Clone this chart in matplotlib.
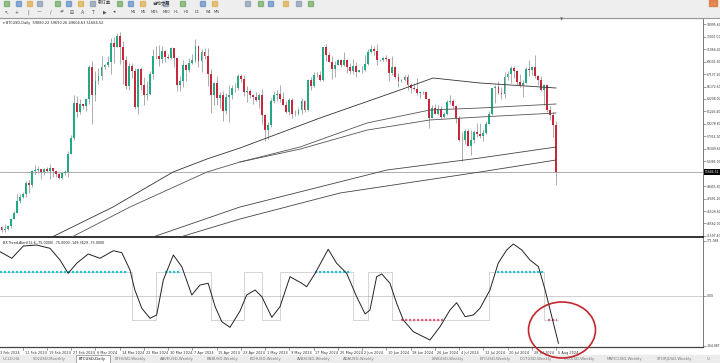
import numpy as np
import matplotlib
matplotlib.use("Agg")
from matplotlib import pyplot as plt
from matplotlib.patches import Rectangle, Ellipse

plt.rcParams['font.family'] = ['DejaVu Sans', 'Noto Sans CJK SC']

# daily bars, 3 Feb 2024 .. 5 Aug 2024 (bar index 0 .. 184)
opens = [43190, 43010, 42580, 42660, 43090, 44340, 45290, 47150, 47770, 48290,
         49960, 49700, 51800, 51940, 52130, 51650, 52120, 51780, 52280, 51850,
         51300, 50730, 51570, 51730, 54480, 57080, 62500, 61200, 62400, 62030,
         63130, 68330, 63800, 66100, 66900, 68300, 68500, 69000, 72100, 71480,
         73080, 71400, 69400, 65300, 68390, 67550, 61910, 67900, 65490, 63780,
         64060, 67230, 69960, 69990, 69450, 70750, 69890, 69650, 71330, 69700,
         65450, 65980, 68500, 67840, 68900, 69360, 71630, 69150, 70590, 70060,
         67190, 63820, 65740, 63420, 63810, 61270, 63510, 63840, 64990, 64930,
         66840, 66410, 64290, 64500, 63770, 63460, 63120, 63840, 60660, 58250,
         59120, 62890, 63890, 64030, 63160, 62330, 61190, 63050, 60790, 60790,
         61450, 62900, 61550, 66270, 65230, 67050, 66940, 66280, 71450, 70140,
         69120, 67930, 68540, 69290, 68500, 69390, 68300, 67590, 68350, 67490,
         67710, 67750, 68800, 70560, 71080, 70760, 69340, 69300, 69650, 69500,
         67320, 68240, 66750, 66010, 66190, 66640, 65490, 64960, 64850, 64100,
         64260, 64260, 63180, 60280, 61800, 60860, 61670, 60320, 60890, 62680,
         62850, 62030, 60170, 56660, 56660, 58230, 55860, 56710, 58050, 57720,
         57340, 57900, 59230, 60790, 64870, 65100, 64120, 63970, 66710, 67160,
         68170, 67560, 65930, 65370, 65800, 67910, 67810, 68260, 66780, 66190,
         64620, 65360, 61420, 60680, 59080.22]
highs = [43380, 43120, 43500, 43380, 44370, 45600, 48200, 48170, 48590, 50330,
         50370, 52040, 52820, 52570, 52180, 52380, 52490, 52980, 52370, 52050,
         51550, 51680, 51950, 54940, 57560, 63910, 63680, 63160, 62460, 63200,
         68520, 69170, 67640, 68030, 69990, 68680, 70010, 72800, 72970, 73650,
         73780, 72420, 70070, 68870, 68920, 68060, 68100, 68200, 66620, 65970,
         67580, 71150, 71520, 71670, 71550, 70900, 70320, 71360, 71330, 69700,
         66900, 69290, 68720, 69630, 70280, 72720, 71740, 71170, 71250, 71230,
         67930, 65820, 66880, 64370, 64480, 64100, 65480, 65420, 65700, 67230,
         67200, 67060, 65250, 64800, 63920, 64360, 64230, 64730, 60780, 59580,
         63320, 64490, 64550, 65450, 64360, 62950, 63400, 63440, 61470, 61790,
         63400, 63090, 66440, 66640, 67390, 67440, 67680, 71470, 71950, 70620,
         70070, 69200, 69520, 69510, 70610, 69550, 68900, 69490, 69000, 67830,
         68400, 70230, 71050, 71740, 71620, 71950, 69550, 69850, 70150, 69560,
         69990, 68440, 67290, 66400, 66950, 67190, 65700, 65700, 66470, 64520,
         64520, 64500, 63360, 62290, 62480, 62300, 62180, 61120, 62980, 63790,
         63240, 62240, 60460, 58000, 58420, 58470, 58240, 58250, 59400, 59460,
         58500, 59800, 61380, 64880, 65360, 66110, 65110, 67460, 67600, 68340,
         68460, 67780, 67080, 66150, 68240, 69400, 68310, 70080, 66980, 66800,
         65560, 65520, 62150, 61100, 59690.26]
lows = [42880, 42260, 42260, 42570, 42790, 44330, 45250, 46800, 47560, 47720,
        48350, 49260, 51330, 51580, 50650, 51160, 51680, 50630, 50830, 50940,
        50520, 50600, 51290, 50930, 54450, 56700, 60400, 60800, 61650, 61380,
        62350, 59320, 62850, 65600, 66180, 67980, 68230, 67190, 68850, 71350,
        68670, 65630, 64820, 64580, 66600, 61560, 60810, 64580, 62300, 63080,
        63830, 66410, 69450, 68400, 68900, 69100, 69530, 69580, 68180, 64540,
        64500, 65110, 66010, 67490, 68800, 69060, 68250, 67520, 69560, 65270,
        60920, 62200, 62330, 61770, 59770, 60830, 59650, 63170, 64290, 64550,
        65860, 63640, 62800, 63340, 62430, 62870, 61800, 59190, 56550, 56940,
        58850, 62630, 62850, 62780, 62330, 60940, 60690, 60230, 60500, 60660,
        60820, 61150, 61340, 64680, 65150, 66640, 65970, 66120, 69200, 68970,
        66350, 66620, 68510, 68240, 68450, 67280, 67130, 67130, 66670, 67390,
        67320, 67620, 68580, 70400, 70150, 68520, 69200, 69160, 69230, 66120,
        66930, 66310, 65100, 65880, 66050, 64690, 64090, 64700, 63880, 63380,
        63950, 63180, 58600, 60240, 60770, 60630, 60100, 60280, 60640, 62470,
        61800, 59470, 56550, 53500, 56050, 55790, 54320, 56300, 57180, 57130,
        56600, 57740, 59230, 60690, 62540, 63940, 63270, 63320, 66270, 65800,
        66600, 65480, 65110, 63460, 65730, 66760, 67050, 66500, 65350, 64540,
        62300, 61200, 59860, 57210, 49604.63]
closes = [43010, 42580, 42660, 43090, 44340, 45290, 47150, 47770, 48290, 49960,
          49700, 51800, 51940, 52130, 51650, 52120, 51780, 52280, 51850, 51300,
          50730, 51570, 51730, 54480, 57080, 62500, 61200, 62400, 62030, 63130,
          68330, 63800, 66100, 66900, 68300, 68500, 69000, 72100, 71480, 73080,
          71400, 69400, 65300, 68390, 67550, 61910, 67900, 65490, 63780, 64060,
          67230, 69960, 69990, 69450, 70750, 69890, 69650, 71330, 69700, 65450,
          65980, 68500, 67840, 68900, 69360, 71630, 69150, 70590, 70060, 67190,
          63820, 65740, 63420, 63810, 61270, 63510, 63840, 64990, 64930, 66840,
          66410, 64290, 64500, 63770, 63460, 63120, 63840, 60660, 58250, 59120,
          62890, 63890, 64030, 63160, 62330, 61190, 63050, 60790, 60790, 61450,
          62900, 61550, 66270, 65230, 67050, 66940, 66280, 71450, 70140, 69120,
          67930, 68540, 69290, 68500, 69390, 68300, 67590, 68350, 67490, 67710,
          67750, 68800, 70560, 71080, 70760, 69340, 69300, 69650, 69500, 67320,
          68240, 66750, 66010, 66190, 66640, 65490, 64960, 64850, 64100, 64260,
          64260, 63180, 60280, 61800, 60860, 61670, 60320, 60890, 62680, 62850,
          62030, 60170, 56660, 56660, 58230, 55860, 56710, 58050, 57720, 57340,
          57900, 59230, 60790, 64870, 65100, 64120, 63970, 66710, 67160, 68170,
          67560, 65930, 65370, 65800, 67910, 67810, 68260, 66780, 66190, 64620,
          65360, 61420, 60680, 59080.22, 51684.52]
last_price = 51684.52

# moving average lines (bar index, price)
ma_a_x = [12, 17.0, 37.8, 57.6, 68.8, 79.7, 106.1, 132.5, 143.4, 158.9, 184]
ma_a_y = [39800, 41273, 46165, 51688, 53740, 55476, 60210, 64628, 66522, 65733, 64944]
ma_b_x = [18, 23.6, 43.4, 68.8, 79.7, 99.5, 121.6, 142.4, 158.9, 184]
ma_b_y = [39800, 41273, 46165, 51688, 53266, 55633, 59420, 61472, 61788, 62419]
ma_c_x = [79.7, 99.5, 121.6, 142.4, 158.9, 184]
ma_c_y = [53266, 55300, 58300, 59900, 60368, 61000]
ma_d_x = [45, 50.0, 79.7, 128.2, 158.9, 184]
ma_d_y = [40400, 41273, 46165, 52003, 53897, 55633]
ma_e_x = [54, 58.9, 79.7, 112.7, 158.9, 184]
ma_e_y = [40400, 41273, 44271, 48374, 51688, 53581]

# oscillator curve (bar index, value)
osc_x = [0.5, 4.4, 8.2, 12.6, 17.0, 20.3, 23.0, 25.8, 29.6, 33.5, 37.9, 40.7, 43.4, 45.0,
         47.3, 50.0, 52.2, 54.4, 57.7, 60.5, 63.8, 66.5, 69.2, 71.5, 73.7, 76.4, 79.7,
         81.9, 84.7, 86.9, 90.2, 92.9, 96.2, 100.1, 101.7, 104.5, 108.8, 111.6, 114.9,
         118.2, 121.0, 122.6, 124.8, 126.5, 129.2, 131.4, 133.6, 136.9, 140.2, 142.4,
         145.7, 149.0, 151.2, 154.0, 156.7, 158.9, 162.2, 164.9, 167.7, 169.9, 172.7,
         175.4, 178.2, 180.4, 182.6, 184.8]
osc_y = [137.5, 116.9, 155.3, 158.4, 148.1, 111.6, 70.0, 101.3, 130.3, 116.9, 140.6, 134.4,
         80.3, 17.8, -39.4, -70.6, -60.3, 49.1, 127.2, 90.6, 2.2, 33.4, 38.8, -34.4, -81.3,
         -98.8, -48.0, 2.2, 17.8, -3.1, -67.5, -34.4, 59.4, 38.8, 28.1, 70.0, 145.0, 101.3,
         70.0, -3.1, -57.2, -44.7, 59.4, 67.8, 38.8, -23.8, -75.9, -112.5, -128.1, -138.4,
         -96.9, -44.7, -21.9, -65.6, -60.3, -39.4, 17.8, 101.3, 142.8, 161.6, 142.8, 111.6,
         90.6, 17.8, -65.6, -148.8]
level = 75.0
step_x = [0, 44, 52, 70, 81, 87, 93, 117, 122, 130, 162, 180, 185]
step_y = [75, -75, 75, -75, 75, -75, 75, -75, 75, -75, 75, -75, -75]
up_runs = [(0.5, 42.7), (55, 60.3), (104.5, 116), (164.5, 179.7)]
down_runs = [(133, 146.7), (181.3, 184.3)]

# the label under the current-price box is hidden in the screenshot
price_ticks = [74995.60, 73031.00, 71066.40, 69101.80, 67137.20, 65172.60, 63208.00,
               61243.40, 59278.80, 57314.20, 55349.60, 53385.00, 49455.80,
               47491.20, 45526.60, 43562.00, 41597.40]
date_labels = ["3 Feb 2024", "11 Feb 2024", "19 Feb 2024", "27 Feb 2024", "6 Mar 2024",
               "14 Mar 2024", "22 Mar 2024", "30 Mar 2024", "7 Apr 2024", "15 Apr 2024",
               "23 Apr 2024", "1 May 2024", "9 May 2024", "17 May 2024", "25 May 2024",
               "2 Jun 2024", "10 Jun 2024", "18 Jun 2024", "26 Jun 2024", "4 Jul 2024",
               "12 Jul 2024", "20 Jul 2024", "28 Jul 2024", "5 Aug 2024"]
date_pos = list(range(0, 185, 8))
tabs = [("UCLD,H4", 3), ("SOLUSD,Monthly", 33), ("BTCUSD,Daily", 79), ("ETHUSD,Weekly", 115),
        ("AAVEUSD,Weekly", 160), ("BNBUSD,Weekly", 207), ("BCHUSD,Weekly", 250),
        ("AVAXUSD,Weekly", 297), ("ADAUSD,Weekly", 343), ("LINKUSD,Weekly", 432),
        ("ETCUSD,Weekly", 480), ("DOTUSD,Weekly", 520), ("TRXUSD,Weekly", 563),
        ("MATICUSD,Weekly", 607), ("STORJUSD,Weekly", 657), ("U", 707)]

GREEN = '#22a884'
RED = '#c8283a'
W, H = 720, 363


def box(x0, y0, x1, y1):  # pixel box -> figure rect
    return [x0 / W, 1 - y1 / H, (x1 - x0) / W, (y1 - y0) / H]


fig = plt.figure(figsize=(7.2, 3.63), dpi=100)
fig.patch.set_facecolor('white')

# toolbar + tabs strips
fig.patches.append(Rectangle((0, 1 - 17 / H), 1, 17 / H, transform=fig.transFigure,
                             color='#eeeeee', zorder=0))
fig.patches.append(Rectangle((0, 0), 1, 8 / H, transform=fig.transFigure,
                             color='#ececec', zorder=0))
fig.patches.append(Rectangle((76 / W, 0), 34 / W, 8 / H, transform=fig.transFigure,
                             color='white', ec='#888', lw=0.5, zorder=1))
for k, xx in enumerate([4, 16, 27, 37, 55, 66, 78, 90, 117, 128, 140, 163, 180, 200, 212,
                        245, 258, 268, 283, 296, 308]):
    c = ['#5a9e4b', '#4a7fc1', '#d9a431', '#7a8ea8'][k % 4]
    fig.patches.append(Rectangle((xx / W, 1 - 6 / H), 5 / W, 5 / H, transform=fig.transFigure,
                                 color=c, alpha=0.6, zorder=1))
fig.patches.append(Rectangle((709 / W, 1 - 6 / H), 8 / W, 6 / H, transform=fig.transFigure,
                             color='#e07030', alpha=0.8, zorder=1))
fig.text(98 / W, 1 - 3 / H, '新订单', fontsize=3.2, va='center', color='#333')
fig.text(152 / W, 1 - 3 / H, '自动交易', fontsize=3.2, va='center', color='#333')
for k, xx in enumerate([4, 15, 27, 37, 50, 60, 70, 81, 92, 103, 113]):
    fig.text(xx / W, 1 - 12 / H, ['↖', '+', '|', '—', '/', '≠', '⊞', 'A', 'T', '▶', '◂'][k],
             fontsize=3.4, va='center', color='#555')
for lab, xx in zip(['M1', 'M5', 'M15', 'M30', 'H1', 'H4', 'D1', 'W1', 'MN'],
                   [131, 141, 151, 163, 174, 184, 195, 206, 214]):
    fig.text(xx / W, 1 - 12 / H, lab, fontsize=2.6, va='center', color='#444')
fig.add_artist(plt.Line2D([0, 1], [1 - 17.5 / H, 1 - 17.5 / H], transform=fig.transFigure,
                          color='#999', lw=0.8))
for lab, xx in tabs:
    fig.text(xx / W, 4 / H, lab, fontsize=2.8, va='center',
             color='#111' if lab == 'BTCUSD,Daily' else '#777')

# ---- price panel ----
ax = fig.add_axes(box(0, 18, 703, 237))
idx = np.arange(len(closes))
o = np.array(opens)
c = np.array(closes)
col = np.where(c >= o, GREEN, RED)
ax.vlines(idx, lows, highs, color='#8c8c8c', lw=0.5, zorder=2)
ax.bar(idx, np.abs(c - o), bottom=np.minimum(o, c), width=0.62, color=col,
       lw=0, zorder=3)
for xs, ys, lc in [(ma_a_x, ma_a_y, '#333'), (ma_b_x, ma_b_y, '#555'),
                   (ma_c_x, ma_c_y, '#555'), (ma_d_x, ma_d_y, '#444'),
                   (ma_e_x, ma_e_y, '#444')]:
    ax.plot(xs, ys, color=lc, lw=0.6, zorder=4)
ax.axhline(last_price, color='#a0a0a0', lw=0.6, zorder=1)
ax.set_xlim(0.5, 232.5)
ax.set_ylim(41431, 75990)
ax.set_xticks([])
ax.yaxis.tick_right()
ax.set_yticks(price_ticks)
ax.set_yticklabels([f'{v:.2f}' for v in price_ticks], fontsize=2.2, color='#333')
ax.tick_params(axis='y', length=1.8, width=0.4, pad=0.8, color='#555')
ax.spines['left'].set_visible(False)
ax.spines['top'].set_color('#777')
ax.spines['right'].set_color('#666')
ax.spines['right'].set_linewidth(0.6)
ax.spines['bottom'].set_color('#222')
ax.spines['bottom'].set_linewidth(1.3)
ax.text(1.003, last_price, f'{last_price:.2f}', transform=ax.get_yaxis_transform(),
        fontsize=2.2, color='white', va='center', ha='left', clip_on=False, zorder=10,
        bbox=dict(facecolor='black', edgecolor='none', pad=0.5))
ax.text(0.004, 0.985, '▾ BTCUSD,Daily  59080.22 59690.26 49604.63 51684.52',
        transform=ax.transAxes, fontsize=2.5, va='top', color='#222')
fig.text(562 / W, 1 - 19.5 / H, '▼', fontsize=3, color='#666', ha='center', va='center')

# ---- oscillator panel ----
osc = fig.add_axes(box(0, 238, 703, 347))
osc.axhline(0, color='#c8c8c8', lw=0.6)
osc.step(step_x, step_y, where='post', color='#8a8a8a', lw=0.6, ls=(0, (1, 1.4)))
for a, b in up_runs:
    osc.plot([a, b], [level, level], color='#22c4d6', lw=1.6, ls=(0, (1, 0.8)))
for a, b in down_runs:
    osc.plot([a, b], [-level, -level], color='#e0607e', lw=1.6, ls=(0, (1, 0.8)))
osc.plot(osc_x, osc_y, color='#222', lw=0.7)
osc.set_xlim(0.5, 232.5)
osc.set_ylim(-160.3, 180.3)
osc.set_xticks([])
osc.yaxis.tick_right()
osc.set_yticks([171.084, 0, -157])
osc.set_yticklabels(['171.084', '0.00', '-164.887'], fontsize=2.2, color='#333')
osc.tick_params(axis='y', length=1.8, width=0.4, pad=0.8, color='#555')
osc.spines['left'].set_visible(False)
osc.spines['top'].set_visible(False)
osc.spines['right'].set_color('#666')
osc.spines['right'].set_linewidth(0.6)
osc.spines['bottom'].set_color('#444')
osc.spines['bottom'].set_linewidth(0.9)
osc.text(0.004, 0.975, 'BX Trend-Alert(12,6,-75.0000) -75.0000 -149.3629 -75.0000',
         transform=osc.transAxes, fontsize=2.4, va='top', color='#222')
tr = osc.get_xaxis_transform()
for p, lab in zip(date_pos, date_labels):
    osc.plot([p, p], [0, -0.025], transform=tr, color='#555', lw=0.4, clip_on=False)
    osc.text(p + 0.6, -0.035, lab, transform=tr, fontsize=2.5, color='#333',
             ha='left', va='top', clip_on=False)

fig.patches.append(Ellipse((562 / W, 1 - 330 / H), 67 / W, 56 / H, transform=fig.transFigure,
                           fill=False, ec='#c1272d', lw=1.2, zorder=20))

fig.savefig('out.png', dpi=100)
